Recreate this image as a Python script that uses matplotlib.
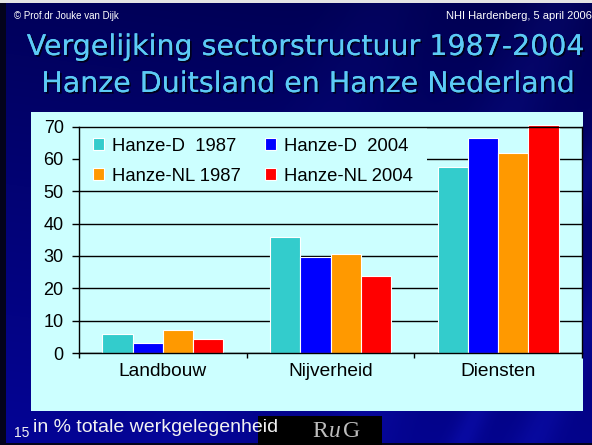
import matplotlib
matplotlib.use('Agg')
import matplotlib.pyplot as plt
import numpy as np
from matplotlib.patches import Rectangle
import matplotlib.patheffects as pe

# ---------------- data ----------------
categories = ['Landbouw', 'Nijverheid', 'Diensten']
series_labels = ['Hanze-D  1987', 'Hanze-D  2004', 'Hanze-NL 1987', 'Hanze-NL 2004']
hanze_d_1987 = [6.0, 35.8, 57.4]
hanze_d_2004 = [3.1, 29.8, 66.5]
hanze_nl_1987 = [7.0, 30.6, 61.7]
hanze_nl_2004 = [4.3, 23.8, 70.4]
series_colors = ['#33CCCC', '#0000FF', '#FF9900', '#FF0000']
yticks = [0, 10, 20, 30, 40, 50, 60, 70]

title_line1 = 'Vergelijking sectorstructuur 1987-2004'
title_line2 = 'Hanze Duitsland en Hanze Nederland'
header_left = '\u00a9 Prof.dr Jouke van Dijk'
header_right = 'NHI Hardenberg, 5 april 2006'
footer_text = 'in % totale werkgelegenheid'
slide_number = '15'

plt.rcParams['font.family'] = ['Liberation Sans', 'DejaVu Sans']

W, H = 592, 445
def fx(px):
    return px / W
def fy(py):
    return 1 - py / H

fig = plt.figure(figsize=(W / 100, H / 100), dpi=100)

# ---------------- background ----------------
bg = fig.add_axes([0, 0, 1, 1], zorder=-10)
ny, nx = H, W
yy, xx = np.mgrid[0:1:ny * 1j, 0:1:nx * 1j]
top_c = np.array([0x00, 0x00, 0x50]) / 255
bot_c = np.array([0x04, 0x04, 0x96]) / 255
t = np.clip(yy * 0.85 + (1 - xx) * 0.15, 0, 1)
img = top_c[None, None, :] * (1 - t[..., None]) + bot_c[None, None, :] * t[..., None]
# faint diagonal streaks
streak = np.zeros_like(xx)
for c0, w, a in [(0.60, 0.06, 0.07), (0.78, 0.025, 0.10), (0.90, 0.035, 0.09), (0.30, 0.08, 0.04)]:
    d = xx - (c0 + 0.35 * (1 - yy))
    streak += a * np.exp(-(d / w) ** 2)
img = img + streak[..., None] * np.array([0.2, 0.25, 0.8])[None, None, :]
img = np.clip(img, 0, 1)
bg.imshow(img, extent=[0, 1, 0, 1], aspect='auto', origin='upper')
bg.set_xlim(0, 1)
bg.set_ylim(0, 1)
bg.axis('off')

# borders
bg.add_patch(Rectangle((0, fy(3)), 1, 3 / H, facecolor='#E4E4E4', edgecolor='none'))
bg.add_patch(Rectangle((0, 0), 6 / W, fy(3), facecolor='#03031C', edgecolor='none'))
bg.add_patch(Rectangle((0, 0), 1, 2 / H, facecolor='#03031C', edgecolor='none'))

# chart panel
bg.add_patch(Rectangle((fx(31), fy(411)), (583 - 31) / W, (411 - 112) / H,
                       facecolor='#CCFFFF', edgecolor='none'))
# RuG logo box
bg.add_patch(Rectangle((fx(258), 0), (382 - 258) / W, fy(416),
                       facecolor='black', edgecolor='none'))

# ---------------- texts ----------------
shadow = [pe.withSimplePatchShadow(offset=(1.2, -1.2), shadow_rgbFace='black', alpha=0.7), pe.Normal()]
title_color = '#5CCBF5'
title_font = ['DejaVu Sans']
fig.text(fx(306), fy(55), title_line1, ha='center', va='baseline', fontsize=20.5,
         color=title_color, path_effects=shadow, family=title_font)
fig.text(fx(308), fy(92), title_line2, ha='center', va='baseline', fontsize=20.5,
         color=title_color, path_effects=shadow, family=title_font)
fig.text(fx(14), fy(19), header_left, ha='left', va='baseline', fontsize=7, color='white')
fig.text(fx(592), fy(19), header_right, ha='right', va='baseline', fontsize=8, color='white')
fig.text(fx(33), fy(432), footer_text, ha='left', va='baseline', fontsize=14, color='#F2F2F2')
fig.text(fx(14), fy(437), slide_number, ha='left', va='baseline', fontsize=10, color='#F2F2F2')
serif = ['Liberation Serif', 'DejaVu Serif']
fig.text(fx(312), fy(437), 'R', ha='left', va='baseline', fontsize=17, color='#BDBDBD', family=serif)
fig.text(fx(329), fy(437), 'u', ha='left', va='baseline', fontsize=17, color='#BDBDBD', family=serif, style='italic')
fig.text(fx(343), fy(437), 'G', ha='left', va='baseline', fontsize=17, color='#BDBDBD', family=serif)

# ---------------- chart ----------------
ax = fig.add_axes([fx(79), fy(353), (582 - 79) / W, (353 - 126.5) / H])
ax.set_facecolor('#CCFFFF')
x = np.arange(len(categories))
series = [hanze_d_1987, hanze_d_2004, hanze_nl_1987, hanze_nl_2004]
bar_w = 0.18
offsets = [-1.5, -0.5, 0.5, 1.5]
handles = []
for vals, off, col, lab in zip(series, offsets, series_colors, series_labels):
    b = ax.bar(x + off * bar_w, vals, width=bar_w, color=col, edgecolor='white',
               linewidth=0.8, label=lab, clip_on=False, zorder=1)
    handles.append(b)

ax.set_xlim(-0.5, len(categories) - 0.5)
ax.set_ylim(0, 70)
ax.set_yticks(yticks)
ax.set_axisbelow(True)
ax.yaxis.grid(True, color='black', linewidth=1)
ax.tick_params(axis='y', length=5, width=1, pad=6, labelsize=13, colors='black')
ax.set_xticks(np.arange(len(categories) + 1) - 0.5)
ax.set_xticklabels([])
ax.tick_params(axis='x', which='major', length=3.6, width=1)
ax.set_xticks(x, minor=True)
ax.set_xticklabels(categories, minor=True, fontsize=13.8)
ax.tick_params(axis='x', which='minor', length=0, pad=7)
for s in ax.spines.values():
    s.set_color('black')
    s.set_linewidth(1)

# area behind legend (hides grid lines)
cover_bottom = (353 - 189.5) / (353 - 126.5)
ax.add_patch(Rectangle((0, cover_bottom), (427 - 79) / (582 - 79), 1 - cover_bottom,
                       transform=ax.transAxes, facecolor='#CCFFFF', edgecolor='none', zorder=0.7))

order = [0, 2, 1, 3]
leg = ax.legend([handles[i] for i in order], [series_labels[i] for i in order],
                ncol=2, loc='upper left', bbox_to_anchor=(0.027, 0.95), frameon=False,
                borderpad=0, borderaxespad=0, fontsize=13.3, handlelength=0.6,
                handleheight=0.6, handletextpad=0.45, columnspacing=1.3, labelspacing=0.7)

fig.savefig('out.png', dpi=100)
